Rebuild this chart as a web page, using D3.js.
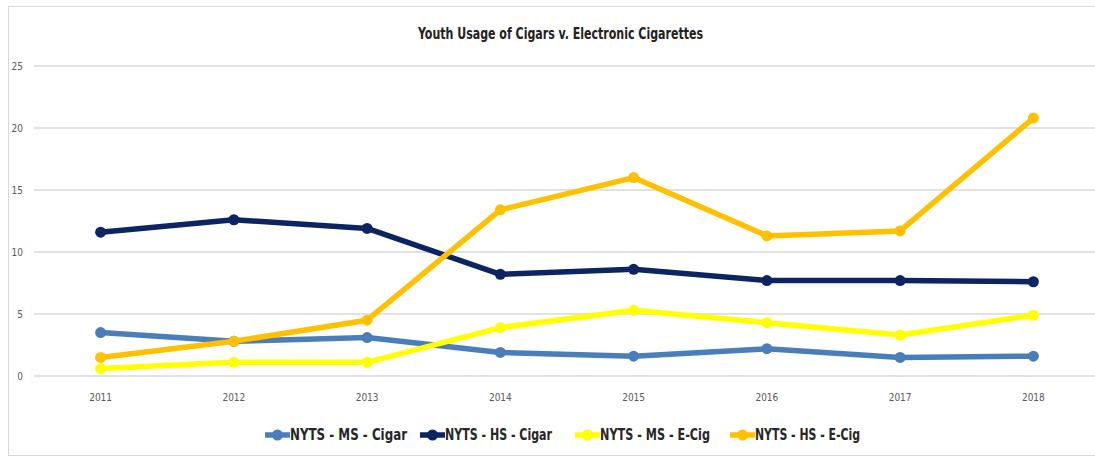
<!DOCTYPE html>
<html>
<head>
<meta charset="utf-8">
<script src="https://cdn.jsdelivr.net/npm/d3@7"></script>
<style>
  body { margin: 0; background: #fff; }
  svg { display: block; }
</style>
</head>
<body>
<script>
// data
var years = ["2011", "2012", "2013", "2014", "2015", "2016", "2017", "2018"];
var msCigar = [3.5, 2.8, 3.1, 1.9, 1.6, 2.2, 1.5, 1.6];
var hsCigar = [11.6, 12.6, 11.9, 8.2, 8.6, 7.7, 7.7, 7.6];
var msEcig = [0.6, 1.1, 1.1, 3.9, 5.3, 4.3, 3.3, 4.9];
var hsEcig = [1.5, 2.8, 4.5, 13.4, 16.0, 11.3, 11.7, 20.8];
var seriesNames = ["NYTS - MS - Cigar", "NYTS - HS - Cigar", "NYTS - MS - E-Cig", "NYTS - HS - E-Cig"];
var yTicks = [0, 5, 10, 15, 20, 25];

var series = [
  {name: seriesNames[0], values: msCigar, color: "#4a7ebb"},
  {name: seriesNames[1], values: hsCigar, color: "#0c2462"},
  {name: seriesNames[2], values: msEcig, color: "#ffff00"},
  {name: seriesNames[3], values: hsEcig, color: "#ffc000"}
];

var W = 1095, H = 459;
var font = "'DejaVu Sans Condensed', 'Liberation Sans', Arial, sans-serif";

var svg = d3.select("body").append("svg")
  .attr("width", W)
  .attr("height", H);

// chart frame (runs off the right edge like the screenshot)
svg.append("rect")
  .attr("x", 8.5).attr("y", 6.5)
  .attr("width", W + 10).attr("height", 449)
  .attr("fill", "#fff")
  .attr("stroke", "#d9d9d9");

var x = d3.scaleBand()
  .domain(years)
  .range([34, 1100]);

var y = d3.scaleLinear()
  .domain([0, 25])
  .range([376, 66]);

// grid
svg.append("g").selectAll("line")
  .data(yTicks)
  .enter().append("line")
  .attr("x1", 34).attr("x2", 1100)
  .attr("y1", function(d) { return y(d); })
  .attr("y2", function(d) { return y(d); })
  .attr("stroke", "#d9d9d9")
  .attr("stroke-width", 1.3);

// y labels
svg.append("g").selectAll("text")
  .data(yTicks)
  .enter().append("text")
  .attr("x", 23)
  .attr("y", function(d) { return y(d); })
  .attr("dy", "0.35em")
  .attr("text-anchor", "end")
  .attr("font-family", font)
  .attr("font-size", 10)
  .attr("fill", "#595959")
  .text(function(d) { return d; });

// x labels
svg.append("g").selectAll("text")
  .data(years)
  .enter().append("text")
  .attr("x", function(d) { return x(d) + x.bandwidth() / 2; })
  .attr("y", 401)
  .attr("text-anchor", "middle")
  .attr("font-family", font)
  .attr("font-size", 10)
  .attr("fill", "#595959")
  .text(function(d) { return d; });

// title
svg.append("text")
  .attr("x", 418)
  .attr("y", 39)
  .attr("font-family", font)
  .attr("font-size", 16)
  .attr("font-weight", "bold")
  .attr("fill", "#222")
  .attr("textLength", 285)
  .attr("lengthAdjust", "spacingAndGlyphs")
  .text("Youth Usage of Cigars v. Electronic Cigarettes");

var line = d3.line()
  .x(function(d, i) { return x(years[i]) + x.bandwidth() / 2; })
  .y(function(d) { return y(d); });

var groups = svg.append("g").selectAll("g")
  .data(series)
  .enter().append("g");

groups.append("path")
  .attr("d", function(s) { return line(s.values); })
  .attr("fill", "none")
  .attr("stroke", function(s) { return s.color; })
  .attr("stroke-width", 5.5)
  .attr("stroke-linejoin", "round");

groups.selectAll("circle")
  .data(function(s) { return s.values.map(function(v, i) { return {v: v, i: i, color: s.color}; }); })
  .enter().append("circle")
  .attr("cx", function(d) { return x(years[d.i]) + x.bandwidth() / 2; })
  .attr("cy", function(d) { return y(d.v); })
  .attr("r", 5.5)
  .attr("fill", function(d) { return d.color; });

// legend
var legendX = [265, 420, 575, 730];
var legendW = [117, 107, 110, 105];
var legend = svg.append("g").selectAll("g")
  .data(series)
  .enter().append("g")
  .attr("transform", function(d, i) { return "translate(" + legendX[i] + ",435)"; });

legend.append("line")
  .attr("x1", 0).attr("x2", 25)
  .attr("stroke", function(d) { return d.color; })
  .attr("stroke-width", 5.5);

legend.append("circle")
  .attr("cx", 12.5)
  .attr("r", 5.5)
  .attr("fill", function(d) { return d.color; });

legend.append("text")
  .attr("x", 25)
  .attr("dy", "0.36em")
  .attr("font-family", font)
  .attr("font-size", 15)
  .attr("font-weight", "bold")
  .attr("fill", "#262626")
  .attr("textLength", function(d, i) { return legendW[i]; })
  .attr("lengthAdjust", "spacingAndGlyphs")
  .text(function(d) { return d.name; });
</script>
</body>
</html>
